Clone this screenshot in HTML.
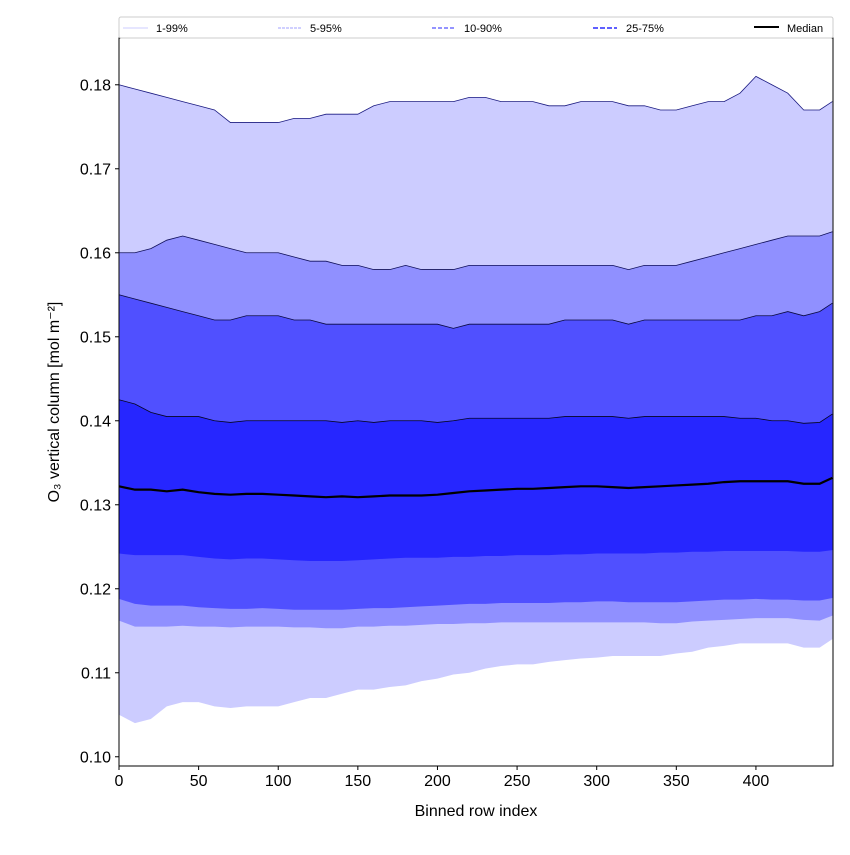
<!DOCTYPE html>
<html><head><meta charset="utf-8"><style>
body{margin:0;background:#fff;width:850px;height:850px;overflow:hidden}
svg text{font-family:"Liberation Sans","DejaVu Sans",sans-serif}
</style></head><body>
<svg id="chart" width="850" height="850" xmlns="http://www.w3.org/2000/svg">
<g id="bands"></g>
<g id="axes"></g>
</svg>
<script>
const xs=[0,10,20,30,40,50,60,70,80,90,100,110,120,130,140,150,160,170,180,190,200,210,220,230,240,250,260,270,280,290,300,310,320,330,340,350,360,370,380,390,400,410,420,430,440,448];
const p99=[0.180,0.1795,0.179,0.1785,0.178,0.1775,0.177,0.1755,0.1755,0.1755,0.1755,0.176,0.176,0.1765,0.1765,0.1765,0.1775,0.178,0.178,0.178,0.178,0.178,0.1785,0.1785,0.178,0.178,0.178,0.1775,0.1775,0.178,0.178,0.178,0.1775,0.1775,0.177,0.177,0.1775,0.178,0.178,0.179,0.181,0.180,0.179,0.177,0.177,0.178];
const p95=[0.160,0.160,0.1605,0.1615,0.162,0.1615,0.161,0.1605,0.160,0.160,0.160,0.1595,0.159,0.159,0.1585,0.1585,0.158,0.158,0.1585,0.158,0.158,0.158,0.1585,0.1585,0.1585,0.1585,0.1585,0.1585,0.1585,0.1585,0.1585,0.1585,0.158,0.1585,0.1585,0.1585,0.159,0.1595,0.160,0.1605,0.161,0.1615,0.162,0.162,0.162,0.1625];
const p90=[0.155,0.1545,0.154,0.1535,0.153,0.1525,0.152,0.152,0.1525,0.1525,0.1525,0.152,0.152,0.1515,0.1515,0.1515,0.1515,0.1515,0.1515,0.1515,0.1515,0.151,0.1515,0.1515,0.1515,0.1515,0.1515,0.1515,0.152,0.152,0.152,0.152,0.1515,0.152,0.152,0.152,0.152,0.152,0.152,0.152,0.1525,0.1525,0.153,0.1525,0.153,0.154];
const p75=[0.1425,0.142,0.141,0.1405,0.1405,0.1405,0.140,0.1398,0.140,0.140,0.140,0.140,0.140,0.140,0.1398,0.140,0.1398,0.140,0.140,0.140,0.1398,0.140,0.1403,0.1403,0.1403,0.1403,0.1403,0.1403,0.1405,0.1405,0.1405,0.1405,0.1403,0.1405,0.1405,0.1405,0.1405,0.1405,0.1405,0.1403,0.1403,0.140,0.140,0.1397,0.1398,0.1408];
const p50=[0.1322,0.1318,0.1318,0.1316,0.1318,0.1315,0.1313,0.1312,0.1313,0.1313,0.1312,0.1311,0.131,0.1309,0.131,0.1309,0.131,0.1311,0.1311,0.1311,0.1312,0.1314,0.1316,0.1317,0.1318,0.1319,0.1319,0.132,0.1321,0.1322,0.1322,0.1321,0.132,0.1321,0.1322,0.1323,0.1324,0.1325,0.1327,0.1328,0.1328,0.1328,0.1328,0.1325,0.1325,0.1332];
const p25=[0.1242,0.1240,0.1240,0.1240,0.1240,0.1238,0.1236,0.1235,0.1236,0.1236,0.1235,0.1234,0.1233,0.1233,0.1233,0.1234,0.1235,0.1236,0.1237,0.1237,0.1237,0.1238,0.1238,0.1239,0.1239,0.1240,0.1240,0.1240,0.1241,0.1241,0.1242,0.1242,0.1242,0.1242,0.1243,0.1243,0.1244,0.1244,0.1245,0.1245,0.1245,0.1245,0.1245,0.1244,0.1244,0.1246];
const p10=[0.1188,0.1182,0.1180,0.1180,0.1180,0.1178,0.1177,0.1176,0.1176,0.1177,0.1176,0.1175,0.1175,0.1175,0.1175,0.1176,0.1177,0.1177,0.1178,0.1179,0.1180,0.1181,0.1182,0.1182,0.1183,0.1183,0.1183,0.1183,0.1184,0.1184,0.1185,0.1185,0.1184,0.1184,0.1184,0.1184,0.1185,0.1186,0.1187,0.1187,0.1188,0.1187,0.1187,0.1186,0.1186,0.1189];
const p5=[0.1162,0.1155,0.1155,0.1155,0.1156,0.1155,0.1155,0.1154,0.1155,0.1155,0.1155,0.1154,0.1154,0.1153,0.1153,0.1155,0.1155,0.1156,0.1156,0.1157,0.1158,0.1158,0.1159,0.1159,0.1160,0.1160,0.1160,0.1160,0.1160,0.1160,0.1160,0.1160,0.1160,0.1160,0.1159,0.1159,0.1161,0.1162,0.1163,0.1164,0.1165,0.1165,0.1165,0.1163,0.1162,0.1168];
const p1=[0.105,0.104,0.1045,0.106,0.1065,0.1065,0.106,0.1058,0.106,0.106,0.106,0.1065,0.107,0.107,0.1075,0.108,0.108,0.1083,0.1085,0.109,0.1093,0.1098,0.110,0.1105,0.1108,0.111,0.111,0.1113,0.1115,0.1117,0.1118,0.112,0.112,0.112,0.112,0.1123,0.1125,0.113,0.1132,0.1135,0.1135,0.1135,0.1135,0.113,0.113,0.114];
const xTicks=[0,50,100,150,200,250,300,350,400];
const yTicks=[0.10,0.11,0.12,0.13,0.14,0.15,0.16,0.17,0.18];

const X0=119,X1=833,Y0=38,Y1=766;
const xMin=0,xMax=448.4,yMin=0.0989,yMax=0.18557;
const sx=v=>X0+(v-xMin)/(xMax-xMin)*(X1-X0);
const sy=v=>Y1-(v-yMin)/(yMax-yMin)*(Y1-Y0);
const NS="http://www.w3.org/2000/svg";
const bands=document.getElementById('bands'),axes=document.getElementById('axes');
function mk(tag,attrs,parent){const e=document.createElementNS(NS,tag);for(const k in attrs)e.setAttribute(k,attrs[k]);parent.appendChild(e);return e;}
function line(arr){return xs.map((x,i)=>sx(x).toFixed(2)+','+sy(arr[i]).toFixed(2)).join(' ');}
function band(lo,hi,color,name,edge){
  const pts=xs.map((x,i)=>sx(x)+','+sy(hi[i])).concat(xs.slice().reverse().map((x,j)=>{const i=xs.length-1-j;return sx(x)+','+sy(lo[i]);}));
  const p=mk('polygon',{points:pts.join(' '),fill:color},bands);
  
  
  const e=mk('polyline',{points:line(hi),fill:'none',stroke:edge,'stroke-width':0.8},bands);
  
  
}
band(p1,p99,'#ccccff','band-1-99','#1a1a80');
band(p5,p95,'#9090ff','band-5-95','#10105a');
band(p10,p90,'#5050ff','band-10-90','#0a0a40');
band(p25,p75,'#2626ff','band-25-75','#050520');
const med=mk('polyline',{points:line(p50),fill:'none',stroke:'#000','stroke-width':2.2},bands);



const frame=mk('rect',{x:X0,y:Y0,width:X1-X0,height:Y1-Y0,fill:'none',stroke:'#000','stroke-width':1},axes);


xTicks.forEach(t=>{
  const x=sx(t);
  const tk=mk('line',{x1:x,x2:x,y1:Y1,y2:Y1+4,stroke:'#000'},axes);
  
  
  const tx=mk('text',{x:x,y:Y1+20,'text-anchor':'middle','font-size':16},axes);
  tx.textContent=t;
  
  
});
yTicks.forEach(t=>{
  const y=sy(t);
  const tk=mk('line',{x1:X0-4,x2:X0,y1:y,y2:y,stroke:'#000'},axes);
  
  
  const tx=mk('text',{x:X0-8,y:y+5.5,'text-anchor':'end','font-size':16},axes);
  tx.textContent=t.toFixed(2);
  
  
});
</script>
<svg style="position:absolute;left:0;top:0" width="850" height="850" xmlns="http://www.w3.org/2000/svg">
<text x="476" y="816" text-anchor="middle" font-size="16">Binned row index</text>
<text transform="translate(59,402) rotate(-90)" text-anchor="middle" font-size="16">O₃ vertical column [mol m⁻²]</text>
<g>
<rect x="119" y="17" width="714" height="21" fill="#fff" stroke="#ccc" stroke-width="1" rx="2"/>
<g><line x1="123" x2="148" y1="28" y2="28" stroke="#ccccff" stroke-width="1"/><text x="156" y="32" font-size="11">1-99%</text></g>
<g><line x1="278" x2="302" y1="28" y2="28" stroke="#a0a0ff" stroke-width="1" stroke-dasharray="3,1"/><text x="310" y="32" font-size="11">5-95%</text></g>
<g><line x1="432" x2="456" y1="28" y2="28" stroke="#7070ff" stroke-width="1.5" stroke-dasharray="4,2"/><text x="464" y="32" font-size="11">10-90%</text></g>
<g><line x1="593" x2="617" y1="28" y2="28" stroke="#6060ff" stroke-width="2" stroke-dasharray="5,2"/><text x="626" y="32" font-size="11">25-75%</text></g>
<g><line x1="754" x2="779" y1="27" y2="27" stroke="#000" stroke-width="2"/><text x="787" y="32" font-size="11">Median</text></g>
</g>
</svg>
</body></html>
